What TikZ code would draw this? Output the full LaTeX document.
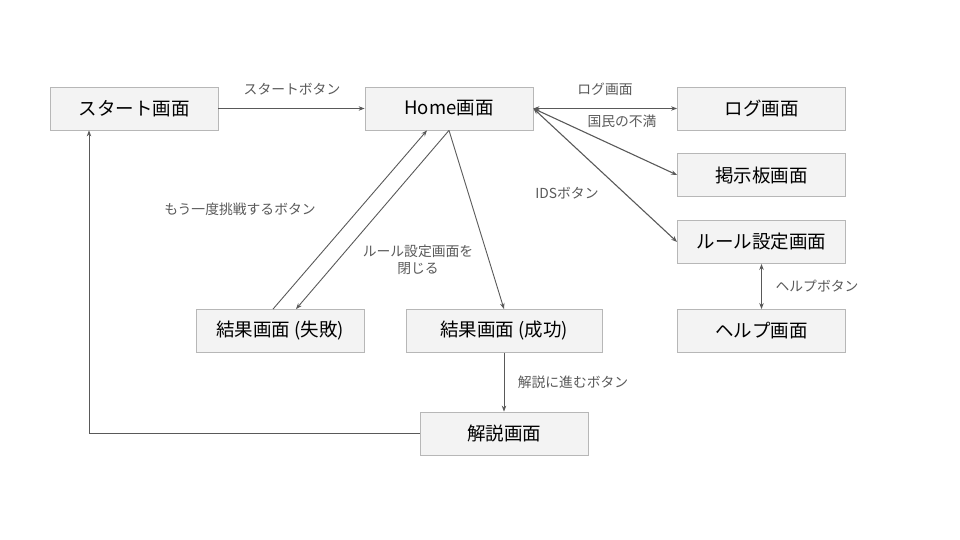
\documentclass[tikz,border=0pt]{standalone}
\usepackage{fontspec}
\setmainfont{Noto Sans CJK JP}
\usetikzlibrary{calc,positioning,arrows.meta}
\definecolor{boxfill}{HTML}{F3F3F3}
\definecolor{boxline}{HTML}{B7B7B7}
\definecolor{linkgray}{HTML}{595959}
\tikzset{
  screen/.style={draw=boxline, fill=boxfill, line width=0.8pt, minimum width=168pt,
    minimum height=43pt, inner sep=0pt, font=\fontsize{18.5}{20}\selectfont},
  link/.style={draw=linkgray, line width=0.9pt, -{Stealth[length=6pt,width=4.5pt]}},
  blink/.style={link, line width=1.1pt, {Stealth[length=6pt,width=4.5pt]}-{Stealth[length=6pt,width=4.5pt]}},
  note/.style={text=linkgray, font=\fontsize{13.8}{17}\selectfont, inner sep=0pt, align=center}
}
\begin{document}
\begin{tikzpicture}[x=1pt,y=-1pt]
  \useasboundingbox (0,0) rectangle (960,540);
  % screens
  \foreach \n/\x/\y/\t in {Start/134/108.5/スタート画面, Home/449/108.5/Home画面,
      Log/761.5/108.5/ログ画面, Board/761.5/175/掲示板画面, Rule/761.5/242/ルール設定画面,
      Help/761.5/331/ヘルプ画面, Fail/280/331/結果画面 (失敗), Expl/504/433.5/解説画面}{
    \node[screen] (n\n) at (\x,\y) {\t};
  }
  \node[screen, minimum width=196pt] (nWin) at (504,331) {結果画面 (成功)};
  % connectors
  \draw[link] (nStart) -- (nHome);
  \draw[blink] (nHome.east) -- (nLog.west);
  \draw[blink] (nHome.east) -- (nBoard.west);
  \draw[blink] (nHome.east) -- (nRule.west);
  \draw[blink] (nRule.south) -- (nHelp.north);
  \draw[link] ($(nFail.north)+(-7,0)$) -- ($(nHome.south)+(-22,0)$);
  \draw[link] (nHome.south) -- ($(nFail.north)+(16,0)$);
  \draw[link] (nHome.south) -- (nWin.north);
  \draw[link] (nWin) -- (nExpl);
  \draw[link] (nExpl.west) -| ($(nStart.south)+(-45,0)$);
  % labels
  \node[note] (lStart) at (292,89) {スタートボタン};
  \node[note] (lLog) at (605,89) {ログ画面};
  \node[note] (lBoard) at (622,121) {国民の不満};
  \node[note] (lRule) at (567,193) {IDSボタン};
  \node[note] (lRetry) at (240,209) {もう一度挑戦するボタン};
  \node[note] (lClose) at (418,260) {ルール設定画面を\\閉じる};
  \node[note] (lHelp) at (817,286) {ヘルプボタン};
  \node[note] (lExpl) at (573,382) {解説に進むボタン};
\end{tikzpicture}
\end{document}
